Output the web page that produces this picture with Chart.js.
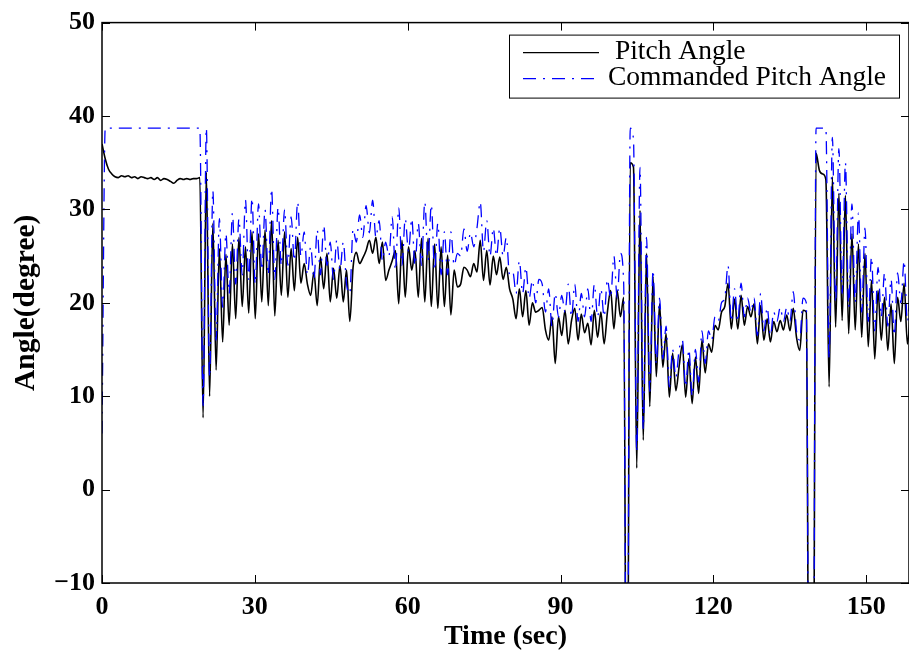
<!DOCTYPE html>
<html>
<head>
<meta charset="utf-8">
<title>Pitch Angle</title>
<script src="https://cdn.jsdelivr.net/npm/chart.js@4.4.1/dist/chart.umd.min.js"></script>
<style>
    html, body { margin: 0; padding: 0; background: #fff; }
    canvas { display: block; }
</style>
</head>
<body>
<canvas id="pitchChart" width="909" height="658"></canvas>
<script>
// sample spacing of the recorded signals (sec)
const sampleStep = 0.64;

const timeTicks = [0, 30, 60, 90, 120, 150];
const angleTicks = [-10, 0, 10, 20, 30, 40, 50];

// 📈 measured pitch angle (deg), one value per sample
const pitchAngle = [
    37.0, 35.4, 34.3, 33.8, 33.5, 33.4, 33.6, 33.5, 33.6, 33.4,
    33.5, 33.3, 33.5, 33.4, 33.3, 33.4, 33.2, 33.4, 33.1, 33.3,
    33.2, 33.0, 32.8, 33.1, 33.3, 33.2, 33.3, 33.2, 33.3, 33.3,
    33.4, 7.7, 34.0, 10.0, 28.5, 12.8, 25.8, 15.8, 25.2, 17.6,
    26.3, 18.3, 27.0, 19.6, 26.0, 18.9, 27.6, 18.3, 27.4, 20.1,
    27.8, 19.7, 28.8, 18.6, 26.7, 20.8, 27.6, 20.6, 25.8, 21.3,
    27.0, 22.1, 24.2, 22.0, 20.8, 23.3, 19.7, 24.9, 21.5, 25.3,
    20.1, 23.7, 20.5, 24.0, 20.1, 23.5, 18.0, 23.8, 25.4, 24.2,
    24.8, 25.6, 26.7, 25.3, 27.0, 24.2, 26.5, 22.4, 23.5, 24.5,
    25.6, 19.9, 26.7, 20.6, 26.0, 23.5, 25.6, 20.6, 26.9, 20.1,
    26.9, 19.6, 26.3, 19.4, 26.0, 19.6, 25.1, 18.7, 23.5, 21.7,
    22.0, 23.8, 23.5, 22.8, 24.2, 23.3, 26.7, 22.4, 25.6, 21.9,
    25.0, 23.0, 24.9, 22.5, 23.8, 21.5, 20.4, 18.3, 21.5, 18.5,
    21.3, 17.6, 20.0, 19.0, 19.2, 19.5, 17.1, 16.0, 18.5, 13.5,
    18.5, 16.5, 19.2, 15.6, 18.1, 19.4, 16.0, 18.8, 16.8, 17.8,
    15.5, 19.2, 16.3, 19.0, 15.6, 19.0, 21.3, 17.2, 21.3, 18.5,
    20.6, -40, 35.0, 34.5, 2.3, 29.9, 5.3, 25.3, 8.9, 22.8,
    12.1, 19.9, 13.1, 16.7, 9.9, 14.6, 10.6, 13.2, 15.5, 9.9,
    14.0, 9.2, 14.2, 10.3, 16.0, 12.5, 15.6, 14.7, 17.6, 17.1,
    19.0, 19.6, 22.1, 17.2, 20.4, 17.2, 20.8, 17.6, 19.6, 18.5,
    19.9, 15.6, 19.7, 16.0, 18.3, 15.8, 18.0, 16.9, 18.1, 17.1,
    18.7, 17.0, 19.4, 16.3, 14.9, 19.2, 19.0, -40, -40, 36.0,
    34.2, 33.8, 33.2, 11.0, 33.5, 17.4, 31.7, 18.1, 31.5, 16.7,
    27.4, 17.1, 26.3, 16.3, 25.3, 15.3, 22.4, 14.0, 21.3, 16.0,
    20.6, 14.9, 19.9, 13.5, 20.6, 18.0, 22.1, 15.6, 19.2
];

// 🎯 commanded pitch angle (deg), same samples
const commandedPitch = [
    6.0, 38.7, 38.7, 38.7, 38.7, 38.7, 38.7, 38.7, 38.7, 38.7,
    38.7, 38.7, 38.7, 38.7, 38.7, 38.7, 38.7, 38.7, 38.7, 38.7,
    38.7, 38.7, 38.7, 38.7, 38.7, 38.7, 38.7, 38.7, 38.7, 38.7,
    38.7, 9.0, 38.7, 12.0, 32.0, 16.0, 29.0, 19.5, 27.4, 21.0,
    29.6, 22.0, 29.0, 23.0, 31.0, 22.5, 31.2, 22.0, 30.6, 23.5,
    30.0, 23.0, 32.2, 22.5, 30.2, 24.0, 30.0, 24.0, 29.2, 24.5,
    30.8, 25.0, 27.6, 23.0, 26.0, 22.5, 27.8, 23.0, 28.3, 24.0,
    26.5, 22.5, 26.7, 23.5, 26.5, 22.0, 21.0, 27.9, 26.5, 29.4,
    27.0, 30.4, 27.5, 31.0, 27.0, 28.8, 24.5, 26.5, 25.0, 29.2,
    23.5, 30.2, 24.0, 29.0, 25.5, 29.0, 24.0, 28.5, 24.0, 30.8,
    24.5, 30.5, 23.5, 28.5, 23.0, 27.6, 23.0, 27.6, 24.0, 25.3,
    25.0, 27.9, 25.5, 27.5, 26.0, 28.0, 30.8, 25.5, 28.8, 25.0,
    28.0, 25.0, 28.0, 25.0, 27.0, 23.0, 23.3, 21.0, 24.5, 21.0,
    23.8, 20.5, 22.4, 20.0, 22.5, 22.0, 19.0, 21.5, 17.5, 21.0,
    18.5, 20.8, 19.0, 22.0, 18.5, 22.0, 18.0, 21.0, 18.5, 21.5,
    18.0, 22.0, 18.5, 21.5, 18.5, 22.5, 20.5, 25.0, 20.5, 25.3,
    22.0, -40, 38.7, 37.5, 4.0, 34.5, 6.5, 27.0, 10.5, 23.5,
    13.5, 20.5, 14.0, 17.5, 11.0, 15.0, 12.0, 15.0, 16.0, 11.0,
    15.0, 10.0, 15.0, 11.5, 17.0, 13.5, 17.0, 16.0, 18.5, 18.0,
    20.0, 20.5, 24.0, 18.0, 21.5, 18.0, 22.1, 18.5, 20.5, 19.0,
    20.5, 16.5, 21.0, 17.0, 19.5, 16.5, 19.0, 18.0, 19.5, 18.0,
    19.5, 18.0, 21.2, 17.0, 16.0, 20.5, 20.0, -40, -40, 38.7,
    38.7, 38.7, 38.7, 14.0, 37.7, 20.0, 36.5, 21.0, 35.0, 19.5,
    30.6, 20.0, 29.6, 19.0, 28.0, 18.0, 24.9, 17.0, 23.8, 18.5,
    23.2, 17.5, 22.5, 16.5, 23.2, 20.0, 24.5, 18.0, 21.5
];

const toPoints = values => values.map((v, i) => ({ x: i * sampleStep, y: v }));

const serif = "'Liberation Serif', 'Times New Roman', serif";
const tickFont = { family: serif, size: 26, weight: 'bold' };

// 🔲 box around the axes with inward ticks on all four sides
const frameTicks = {
    id: 'frameTicks',
    afterDatasetsDraw(chart) {
        const { ctx, chartArea: a, scales } = chart;
        ctx.save();
        ctx.strokeStyle = '#000';
        ctx.lineWidth = 1.5;
        ctx.strokeRect(a.left, a.top, a.right - a.left, a.bottom - a.top);
        ctx.lineWidth = 1;
        ctx.beginPath();
        scales.x.ticks.forEach(t => {
            const px = Math.round(scales.x.getPixelForValue(t.value)) + 0.5;
            ctx.moveTo(px, a.bottom); ctx.lineTo(px, a.bottom - 8);
            ctx.moveTo(px, a.top); ctx.lineTo(px, a.top + 8);
        });
        scales.y.ticks.forEach(t => {
            const py = Math.round(scales.y.getPixelForValue(t.value)) + 0.5;
            ctx.moveTo(a.left, py); ctx.lineTo(a.left + 8, py);
            ctx.moveTo(a.right, py); ctx.lineTo(a.right - 8, py);
        });
        ctx.stroke();
        ctx.restore();
    }
};

// 🏷️ boxed legend in the upper right corner
const boxLegend = {
    id: 'boxLegend',
    afterDraw(chart) {
        const { ctx, chartArea: a } = chart;
        const w = 390, h = 63;
        const x0 = a.right - 10 - w;
        const y0 = a.top + 12;
        ctx.save();
        ctx.fillStyle = '#fff';
        ctx.fillRect(x0, y0, w, h);
        ctx.strokeStyle = '#000';
        ctx.lineWidth = 1;
        ctx.strokeRect(x0 + 0.5, y0 + 0.5, w, h);
        ctx.font = '27.5px ' + serif;
        ctx.textBaseline = 'alphabetic';
        ctx.fillStyle = '#000';
        const rows = [chart.data.datasets[1], chart.data.datasets[0]];
        rows.forEach((ds, k) => {
            const ly = y0 + 18 + k * 26;
            ctx.beginPath();
            ctx.strokeStyle = ds.borderColor;
            ctx.lineWidth = 1.2;
            ctx.setLineDash(ds.borderDash || []);
            ctx.moveTo(x0 + 14, ly);
            ctx.lineTo(x0 + 90, ly);
            ctx.stroke();
            ctx.setLineDash([]);
            ctx.fillText(ds.label, x0 + 99, ly + 6);
        });
        ctx.restore();
    }
};

new Chart(document.getElementById('pitchChart'), {
    type: 'line',
    data: {
        datasets: [
            {
                label: 'Commanded Pitch Angle',
                data: toPoints(commandedPitch),
                borderColor: '#0000ff',
                borderWidth: 1.3,
                borderDash: [13, 7, 2, 7],
                pointRadius: 0,
                cubicInterpolationMode: 'monotone',
                clip: 0,
                order: 1
            },
            {
                label: ' Pitch Angle',
                data: toPoints(pitchAngle),
                borderColor: '#000000',
                borderWidth: 1.6,
                pointRadius: 0,
                cubicInterpolationMode: 'monotone',
                clip: 0,
                order: 2
            }
        ]
    },
    options: {
        responsive: false,
        animation: false,
        devicePixelRatio: 1,
        layout: { padding: { top: 22, right: 0, left: 0, bottom: 0 } },
        plugins: {
            legend: { display: false },
            tooltip: { enabled: false }
        },
        scales: {
            x: {
                type: 'linear',
                min: 0,
                max: 158.4,
                afterBuildTicks: s => { s.ticks = timeTicks.map(v => ({ value: v })); },
                afterFit: s => { s.height = 75; },
                grid: { display: false, drawTicks: false },
                border: { display: false },
                ticks: { font: tickFont, color: '#000', padding: 9, maxRotation: 0, autoSkip: false },
                title: {
                    display: true, text: 'Time (sec)', color: '#000',
                    font: { family: serif, size: 28, weight: 'bold' },
                    padding: { top: 0, bottom: 4 }
                }
            },
            y: {
                type: 'linear',
                min: -10,
                max: 50,
                afterBuildTicks: s => { s.ticks = angleTicks.map(v => ({ value: v })); },
                afterFit: s => { s.width = 102; },
                grid: { display: false, drawTicks: false },
                border: { display: false },
                ticks: {
                    font: tickFont, color: '#000', padding: 7, autoSkip: false,
                    callback: v => (v < 0 ? '\u2212' + Math.abs(v) : String(v))
                },
                title: {
                    display: true, text: 'Angle(degree)', color: '#000',
                    font: { family: serif, size: 29.5, weight: 'bold' },
                    padding: { top: 9, bottom: 0 }
                }
            }
        }
    },
    plugins: [frameTicks, boxLegend]
});
</script>
</body>
</html>
